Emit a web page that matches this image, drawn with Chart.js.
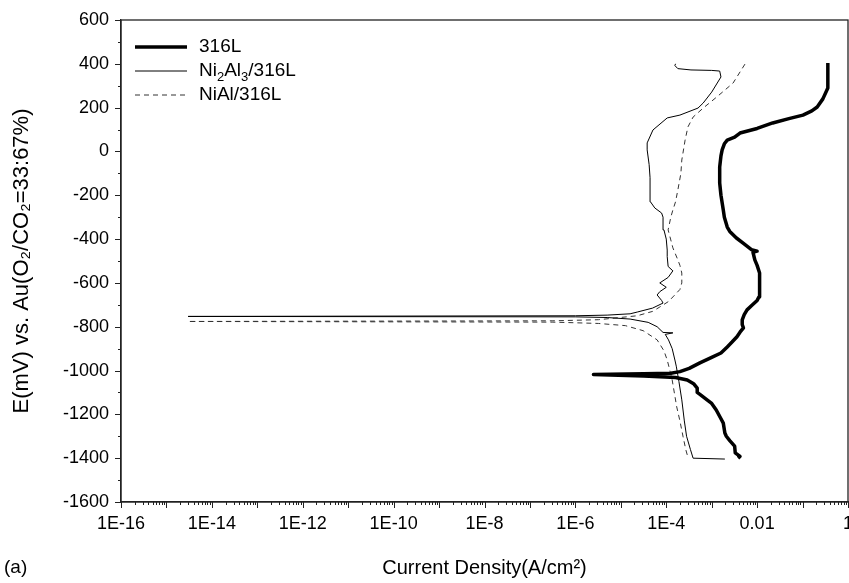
<!DOCTYPE html>
<html>
<head>
<meta charset="utf-8">
<script src="https://cdn.jsdelivr.net/npm/chart.js@4.4.1/dist/chart.umd.min.js"></script>
<style>
  html, body { margin: 0; padding: 0; background: #fff; }
  #wrap { width: 849px; height: 583px; position: relative; }
</style>
</head>
<body>
<div id="wrap"><canvas id="graph1"></canvas></div>
<script>
// current density (A/cm2) and potential (mV)
const i_316L = [3.8e-3, 4.2e-3, 3.3e-3, 3.2e-3, 2.5e-3, 2.1e-3, 1.95e-3, 1.8e-3, 1.6e-3, 1.26e-3, 1.0e-3, 7.9e-4, 5.6e-4, 4.8e-4, 4.8e-4, 4.0e-4, 2.9e-4, 1.6e-4, 3.2e-5, 2.5e-6, 3.2e-5, 1.26e-4, 2.0e-4, 3.2e-4, 5.5e-4, 1.0e-3, 1.6e-3, 2.2e-3, 2.8e-3, 3.6e-3, 4.2e-3, 5.0e-3, 4.7e-3, 4.7e-3, 5.2e-3, 6.0e-3, 7.9e-3, 1.0e-2, 1.1e-2, 1.15e-2, 1.15e-2, 1.1e-2, 1.0e-2, 8.9e-3, 8.1e-3, 1.0e-2, 7.5e-3, 5.0e-3, 3.5e-3, 2.5e-3, 2.2e-3, 1.9e-3, 1.8e-3, 1.6e-3, 1.5e-3, 1.5e-3, 1.6e-3, 1.7e-3, 1.9e-3, 2.2e-3, 3.2e-3, 4.2e-3, 1.0e-2, 2.2e-2, 5.0e-2, 0.102, 0.16, 0.21, 0.28, 0.36, 0.36, 0.36];
const e_316L = [-1400, -1392, -1376, -1345, -1320, -1300, -1285, -1240, -1220, -1180, -1150, -1134, -1110, -1100, -1080, -1060, -1043, -1032, -1025, -1018, -1015, -1012, -1005, -990, -965, -940, -920, -892, -870, -846, -825, -805, -790, -769, -745, -723, -700, -680, -664, -630, -600, -555, -520, -495, -460, -455, -448, -420, -395, -365, -345, -300, -267, -200, -144, -71, -20, 7, 35, 52, 65, 84, 105, 130, 150, 166, 185, 203, 240, 290, 350, 404];

const i_Ni2Al3 = [1.95e-3, 3.9e-4, 3.4e-4, 2.8e-4, 2.5e-4, 2.2e-4, 1.9e-4, 1.66e-4, 1.55e-4, 1.35e-4, 1.12e-4, 9.5e-5, 1.4e-4, 8.5e-5, 6.3e-5, 4.0e-5, 1.6e-5, 5e-6, 1e-6, 3e-15, 1e-6, 5e-6, 1.6e-5, 2.3e-5, 5e-5, 8.5e-5, 7.9e-5, 6.3e-5, 7.2e-5, 1.0e-4, 7.2e-5, 1.1e-4, 1.4e-4, 1.1e-4, 1.05e-4, 1.05e-4, 1.0e-4, 8.9e-5, 8.5e-5, 7.9e-5, 5.6e-5, 4.5e-5, 4.4e-5, 4.4e-5, 4.2e-5, 3.8e-5, 3.8e-5, 5.1e-5, 1.05e-4, 2.0e-4, 5.0e-4, 6.5e-4, 1.0e-3, 1.6e-3, 1.5e-3, 1.0e-3, 3.5e-4, 1.8e-4, 1.55e-4, 1.6e-4];
const e_Ni2Al3 = [-1404, -1400, -1360, -1300, -1230, -1134, -1050, -980, -952, -900, -860, -835, -828, -826, -800, -780, -765, -758, -755, -753, -750, -747, -741, -733, -715, -692, -680, -655, -640, -620, -600, -575, -545, -525, -480, -450, -400, -358, -300, -281, -258, -230, -200, -120, -60, 7, 39, 98, 153, 166, 198, 221, 271, 340, 367, 370, 372, 378, 392, 400];

const i_NiAl = [2.9e-4, 2.7e-4, 2.35e-4, 2.0e-4, 1.7e-4, 1.35e-4, 1.17e-4, 1.05e-4, 8.9e-5, 6.3e-5, 3.1e-5, 1.26e-5, 3.2e-6, 3.2e-7, 3e-15, 3.2e-7, 3.2e-6, 2.3e-5, 5e-5, 7.2e-5, 1.12e-4, 1.4e-4, 2.0e-4, 2.2e-4, 2.2e-4, 2.0e-4, 1.8e-4, 1.4e-4, 1.26e-4, 1.1e-4, 1.26e-4, 1.4e-4, 1.6e-4, 1.8e-4, 2.1e-4, 2.2e-4, 2.6e-4, 3.0e-4, 3.9e-4, 6.5e-4, 1.3e-3, 2.95e-3, 5.6e-3];
const e_NiAl = [-1385, -1362, -1303, -1230, -1166, -1043, -990, -952, -910, -860, -818, -795, -785, -779, -776, -773, -768, -750, -730, -710, -685, -664, -630, -600, -555, -520, -495, -440, -404, -358, -300, -267, -230, -176, -100, -39, 52, 112, 157, 198, 249, 312, 404];

const xTickValues = [1e-16, 1e-14, 1e-12, 1e-10, 1e-8, 1e-6, 1e-4, 1e-2, 1];
const xTickLabels = ['1E-16', '1E-14', '1E-12', '1E-10', '1E-8', '1E-6', '1E-4', '0.01', '1'];

// legend text, split in [text, subscript?] pieces
const legendParts = [
    [['316L', false]],
    [['Ni', false], ['2', true], ['Al', false], ['3', true], ['/316L', false]],
    [['NiAl/316L', false]]
];

const FONT = '"Liberation Sans", Arial, sans-serif';
const toPoints = (xs, ys) => xs.map((x, k) => ({ x: x, y: ys[k] }));

// origin-style outward ticks, frame, legend and panel letter
const decorPlugin = {
    id: 'decor',
    afterDraw(chart) {
        const ctx = chart.ctx;
        const a = chart.chartArea;
        const xs = chart.scales.x;
        const ys = chart.scales.y;
        ctx.save();
        ctx.strokeStyle = '#222';
        ctx.lineWidth = 1.3;
        ctx.strokeRect(a.left, a.top, a.right - a.left, a.bottom - a.top);
        ctx.lineWidth = 1;
        ctx.beginPath();
        for (let k = -16; k <= 0; k++) {
            for (let m = 1; m <= 9; m++) {
                if (k === 0 && m > 1) break;
                const px = Math.round(xs.getPixelForValue(m * Math.pow(10, k))) + 0.5;
                const len = m === 1 ? 6 : 3;
                ctx.moveTo(px, a.bottom);
                ctx.lineTo(px, a.bottom + len);
            }
        }
        for (let v = -1600; v <= 600; v += 100) {
            const py = Math.round(ys.getPixelForValue(v)) + 0.5;
            const len = v % 200 === 0 ? 6 : 3;
            ctx.moveTo(a.left, py);
            ctx.lineTo(a.left - len, py);
        }
        ctx.stroke();

        // legend
        ctx.textBaseline = 'middle';
        ctx.fillStyle = '#000';
        chart.data.datasets.forEach((ds, i) => {
            const y = a.top + 27 + i * 24;
            ctx.save();
            ctx.strokeStyle = ds.borderColor;
            ctx.lineWidth = ds.borderWidth;
            ctx.setLineDash(ds.borderDash || []);
            ctx.beginPath();
            ctx.moveTo(a.left + 14, y);
            ctx.lineTo(a.left + 66, y);
            ctx.stroke();
            ctx.restore();
            let x = a.left + 78;
            legendParts[i].forEach(([txt, sub]) => {
                ctx.font = (sub ? '13px ' : '19px ') + FONT;
                ctx.fillText(txt, x, sub ? y + 6 : y);
                x += ctx.measureText(txt).width;
            });
        });

        ctx.font = '19px ' + FONT;
        ctx.fillText('(a)', 4, 568);
        ctx.restore();
    }
};

const config = {
    type: 'scatter',
    data: {
        datasets: [
            {
                label: '316L',
                data: toPoints(i_316L, e_316L),
                borderColor: '#000',
                borderWidth: 3.5,
            },
            {
                label: 'Ni\u2082Al\u2083/316L',
                data: toPoints(i_Ni2Al3, e_Ni2Al3),
                borderColor: '#000',
                borderWidth: 1,
            },
            {
                label: 'NiAl/316L',
                data: toPoints(i_NiAl, e_NiAl),
                borderColor: '#333',
                borderWidth: 1,
                borderDash: [5, 4],
            }
        ]
    },
    options: {
        responsive: true,
        maintainAspectRatio: false,
        animation: false,
        showLine: true,
        layout: { padding: { top: 20, right: 1, left: 0, bottom: 0 } },
        elements: {
            point: { radius: 0, hoverRadius: 0 },
            line: { tension: 0, fill: false, borderJoinStyle: 'round' }
        },
        scales: {
            x: {
                type: 'logarithmic',
                min: 1e-16,
                max: 1,
                afterBuildTicks: (scale) => {
                    scale.ticks = xTickValues.map(v => ({ value: v }));
                },
                afterFit: (scale) => {
                    scale.height = 81;
                    scale.paddingLeft = 0;
                    scale.paddingRight = 0;
                },
                grid: { display: false, drawTicks: false },
                border: { display: true, color: '#222', width: 1.3 },
                ticks: {
                    autoSkip: false,
                    maxRotation: 0,
                    padding: 11,
                    color: '#000',
                    font: { family: FONT, size: 18 },
                    callback: (v) => {
                        const k = xTickValues.findIndex(t => Math.abs(Math.log10(t) - Math.log10(v)) < 1e-6);
                        return k >= 0 ? xTickLabels[k] : '';
                    }
                },
                title: {
                    display: true,
                    text: 'Current Density(A/cm\u00B2)',
                    color: '#000',
                    padding: { top: 0, bottom: 3 },
                    font: { family: FONT, size: 20 }
                }
            },
            y: {
                min: -1600,
                max: 600,
                afterFit: (scale) => {
                    scale.width = 121;
                    scale.paddingTop = 0;
                    scale.paddingBottom = 0;
                },
                grid: { display: false, drawTicks: false },
                border: { display: true, color: '#222', width: 1.3 },
                ticks: {
                    stepSize: 200,
                    padding: 12,
                    color: '#000',
                    font: { family: FONT, size: 18 },
                    callback: (v) => String(v)
                },
                title: {
                    display: true,
                    text: 'E(mV) vs. Au(O\u2082/CO\u2082=33:67%)',
                    color: '#000',
                    padding: { top: 9, bottom: 0 },
                    font: { family: FONT, size: 22 }
                }
            }
        },
        plugins: {
            tooltip: { enabled: false },
            legend: { display: false }
        }
    },
    plugins: [decorPlugin]
};

const myChart = new Chart(
    document.getElementById('graph1'),
    config
);
</script>
</body>
</html>
